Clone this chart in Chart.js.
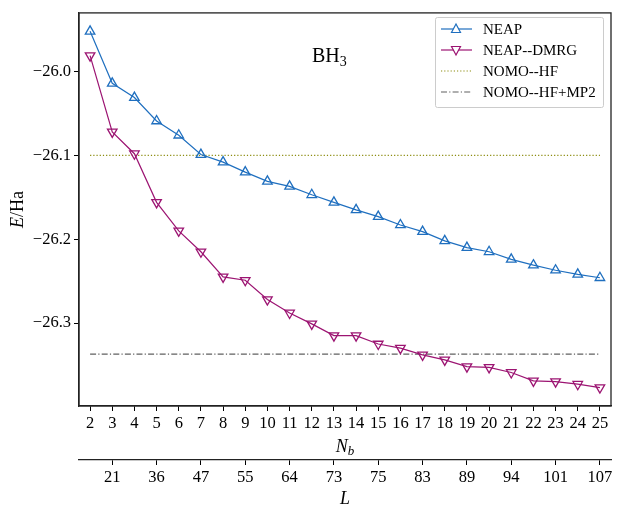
<!DOCTYPE html>
<html>
<head>
<meta charset="utf-8">
<script src="https://cdn.jsdelivr.net/npm/chart.js@4.4.0/dist/chart.umd.min.js"></script>
<style>
  html, body { margin: 0; padding: 0; background: #fff; }
  #wrap { width: 623px; height: 519px; }
</style>
</head>
<body>
<div id="wrap"><canvas id="chart" width="623" height="519"></canvas></div>
<script>
// basis size N_b and the matching L values on the second axis
const nbValues = [2, 3, 4, 5, 6, 7, 8, 9, 10, 11, 12, 13, 14, 15, 16, 17, 18, 19, 20, 21, 22, 23, 24, 25];
const neapEnergy = [-25.952, -26.014, -26.031, -26.059, -26.076, -26.099, -26.108, -26.120, -26.131, -26.137,
  -26.147, -26.156, -26.165, -26.173, -26.183, -26.191, -26.202, -26.210, -26.215, -26.224,
  -26.231, -26.237, -26.242, -26.246];
const dmrgEnergy = [-25.981, -26.072, -26.098, -26.156, -26.190, -26.215, -26.245, -26.249, -26.272, -26.288,
  -26.301, -26.315, -26.315, -26.325, -26.330, -26.338, -26.344, -26.352, -26.353, -26.359,
  -26.369, -26.370, -26.373, -26.377];
const hfEnergy = -26.100;
const mp2Energy = -26.337;
const yTicks = [-26.0, -26.1, -26.2, -26.3];
const lTickPositions = [3, 5, 7, 9, 11, 13, 15, 17, 19, 21, 23, 25];
const lTickLabels = ["21", "36", "47", "55", "64", "73", "75", "83", "89", "94", "101", "107"];

const blue = "#1f6fbf";
const purple = "#9c1472";
const olive = "#8c8c10";
const grey = "#606060";
const serif = "'Liberation Serif', 'DejaVu Serif', serif";

const toXY = (ys) => nbValues.map((n, i) => ({ x: n, y: ys[i] }));
const flat = (v) => [{ x: nbValues[0], y: v }, { x: nbValues[nbValues.length - 1], y: v }];

// frame, axis titles, BH3 label and legend
const extras = {
  id: "extras",
  afterDraw(chart) {
    const ctx = chart.ctx;
    const a = chart.chartArea;
    ctx.save();
    ctx.strokeStyle = "#222";
    ctx.lineWidth = 1.3;
    ctx.strokeRect(a.left, a.top, a.right - a.left, a.bottom - a.top);

    ctx.fillStyle = "#000";
    ctx.textBaseline = "alphabetic";

    // y title E/Ha
    ctx.save();
    ctx.translate(23, (a.top + a.bottom) / 2);
    ctx.rotate(-Math.PI / 2);
    ctx.font = "italic 18px " + serif;
    const wE = ctx.measureText("E").width;
    ctx.font = "18px " + serif;
    const wR = ctx.measureText("/Ha").width;
    let sx = -(wE + wR) / 2;
    ctx.font = "italic 18px " + serif;
    ctx.fillText("E", sx, 0);
    ctx.font = "18px " + serif;
    ctx.fillText("/Ha", sx + wE, 0);
    ctx.restore();

    // N_b title
    const cx = (a.left + a.right) / 2;
    ctx.font = "italic 18px " + serif;
    const wN = ctx.measureText("N").width;
    ctx.font = "italic 13px " + serif;
    const wb = ctx.measureText("b").width;
    sx = cx - (wN + wb) / 2;
    ctx.font = "italic 18px " + serif;
    ctx.fillText("N", sx, 452);
    ctx.font = "italic 13px " + serif;
    ctx.fillText("b", sx + wN, 455);

    // L title
    ctx.font = "italic 18px " + serif;
    ctx.textAlign = "center";
    ctx.fillText("L", cx, 504);
    ctx.textAlign = "left";

    // BH3 label
    ctx.font = "20px " + serif;
    ctx.fillText("BH", 312, 62);
    const wBH = ctx.measureText("BH").width;
    ctx.font = "14px " + serif;
    ctx.fillText("3", 312 + wBH, 66);

    // legend
    const lx = 435, ly = 17, lw = 168, lh = 90;
    ctx.fillStyle = "rgba(255,255,255,0.85)";
    ctx.strokeStyle = "#cccccc";
    ctx.lineWidth = 1;
    ctx.beginPath();
    ctx.roundRect(lx + 0.5, ly + 0.5, lw, lh, 2);
    ctx.fill();
    ctx.stroke();

    const items = [
      { label: "NEAP", color: blue, dash: [], marker: "up" },
      { label: "NEAP--DMRG", color: purple, dash: [], marker: "down" },
      { label: "NOMO--HF", color: olive, dash: [1.2, 2], marker: null },
      { label: "NOMO--HF+MP2", color: grey, dash: [6, 2.2, 1.2, 2.2], marker: null }
    ];
    items.forEach((it, i) => {
      const y = 29 + i * 21;
      ctx.strokeStyle = it.color;
      ctx.lineWidth = 1.2;
      ctx.setLineDash(it.dash);
      ctx.beginPath();
      ctx.moveTo(441, y);
      ctx.lineTo(472, y);
      ctx.stroke();
      ctx.setLineDash([]);
      if (it.marker) {
        const r = 5;
        const s = it.marker === "up" ? 1 : -1;
        ctx.fillStyle = "#fff";
        ctx.beginPath();
        ctx.moveTo(456, y - s * r);
        ctx.lineTo(456 - r * 0.9, y + s * r * 0.7);
        ctx.lineTo(456 + r * 0.9, y + s * r * 0.7);
        ctx.closePath();
        ctx.fill();
        ctx.stroke();
      }
      ctx.fillStyle = "#000";
      ctx.font = "15px " + serif;
      ctx.fillText(it.label, 483, y + 5);
    });
    ctx.restore();
  }
};

new Chart(document.getElementById("chart"), {
  type: "line",
  data: {
    datasets: [
      {
        label: "NEAP",
        data: toXY(neapEnergy),
        borderColor: blue,
        borderWidth: 1.2,
        pointStyle: "triangle",
        pointRadius: 5.5,
        pointBorderWidth: 1.3,
        pointBorderColor: blue,
        pointBackgroundColor: "rgba(255,255,255,0)",
        tension: 0
      },
      {
        label: "NEAP--DMRG",
        data: toXY(dmrgEnergy),
        borderColor: purple,
        borderWidth: 1.2,
        pointStyle: "triangle",
        pointRotation: 180,
        pointRadius: 5.5,
        pointBorderWidth: 1.3,
        pointBorderColor: purple,
        pointBackgroundColor: "rgba(255,255,255,0)",
        tension: 0
      },
      {
        label: "NOMO--HF",
        data: flat(hfEnergy),
        borderColor: olive,
        borderWidth: 1.2,
        borderDash: [1.2, 2],
        pointRadius: 0
      },
      {
        label: "NOMO--HF+MP2",
        data: flat(mp2Energy),
        borderColor: grey,
        borderWidth: 1.2,
        borderDash: [6, 2.2, 1.2, 2.2],
        pointRadius: 0
      }
    ]
  },
  options: {
    responsive: false,
    animation: false,
    devicePixelRatio: 1,
    layout: { padding: { top: 10, right: 12, left: 0, bottom: 0 } },
    plugins: {
      legend: { display: false },
      tooltip: { enabled: false }
    },
    scales: {
      x: {
        type: "linear",
        position: "bottom",
        min: 1.5,
        max: 25.5,
        weight: 0,
        afterBuildTicks: (s) => { s.ticks = nbValues.map(v => ({ value: v })); },
        afterFit: (s) => { s.height = 54; },
        ticks: {
          color: "#000",
          font: { family: serif, size: 16.5 },
          padding: 3,
          maxRotation: 0,
          autoSkip: false,
          callback: (v) => String(v)
        },
        grid: { drawOnChartArea: false, drawTicks: true, tickLength: 5, color: "#000", lineWidth: 1 },
        border: { display: true, color: "#222", width: 1.3 }
      },
      x2: {
        type: "linear",
        position: "bottom",
        min: 1.5,
        max: 25.5,
        weight: 1,
        afterBuildTicks: (s) => { s.ticks = lTickPositions.map(v => ({ value: v })); },
        afterFit: (s) => { s.height = 59; },
        ticks: {
          color: "#000",
          font: { family: serif, size: 16.5 },
          padding: 3,
          maxRotation: 0,
          autoSkip: false,
          callback: (v) => lTickLabels[lTickPositions.indexOf(v)]
        },
        grid: { drawOnChartArea: false, drawTicks: true, tickLength: 5, color: "#000", lineWidth: 1 },
        border: { display: true, color: "#222", width: 1.3 }
      },
      y: {
        type: "linear",
        min: -26.399,
        max: -25.930,
        afterBuildTicks: (s) => { s.ticks = yTicks.map(v => ({ value: v })); },
        afterFit: (s) => { s.width = 79; },
        ticks: {
          color: "#000",
          font: { family: serif, size: 16.5 },
          padding: 3,
          callback: (v) => "\u2212" + Math.abs(v).toFixed(1)
        },
        grid: { drawOnChartArea: false, drawTicks: true, tickLength: 5, color: "#000", lineWidth: 1 },
        border: { display: true, color: "#222", width: 1.3 }
      }
    }
  },
  plugins: [extras]
});
</script>
</body>
</html>
